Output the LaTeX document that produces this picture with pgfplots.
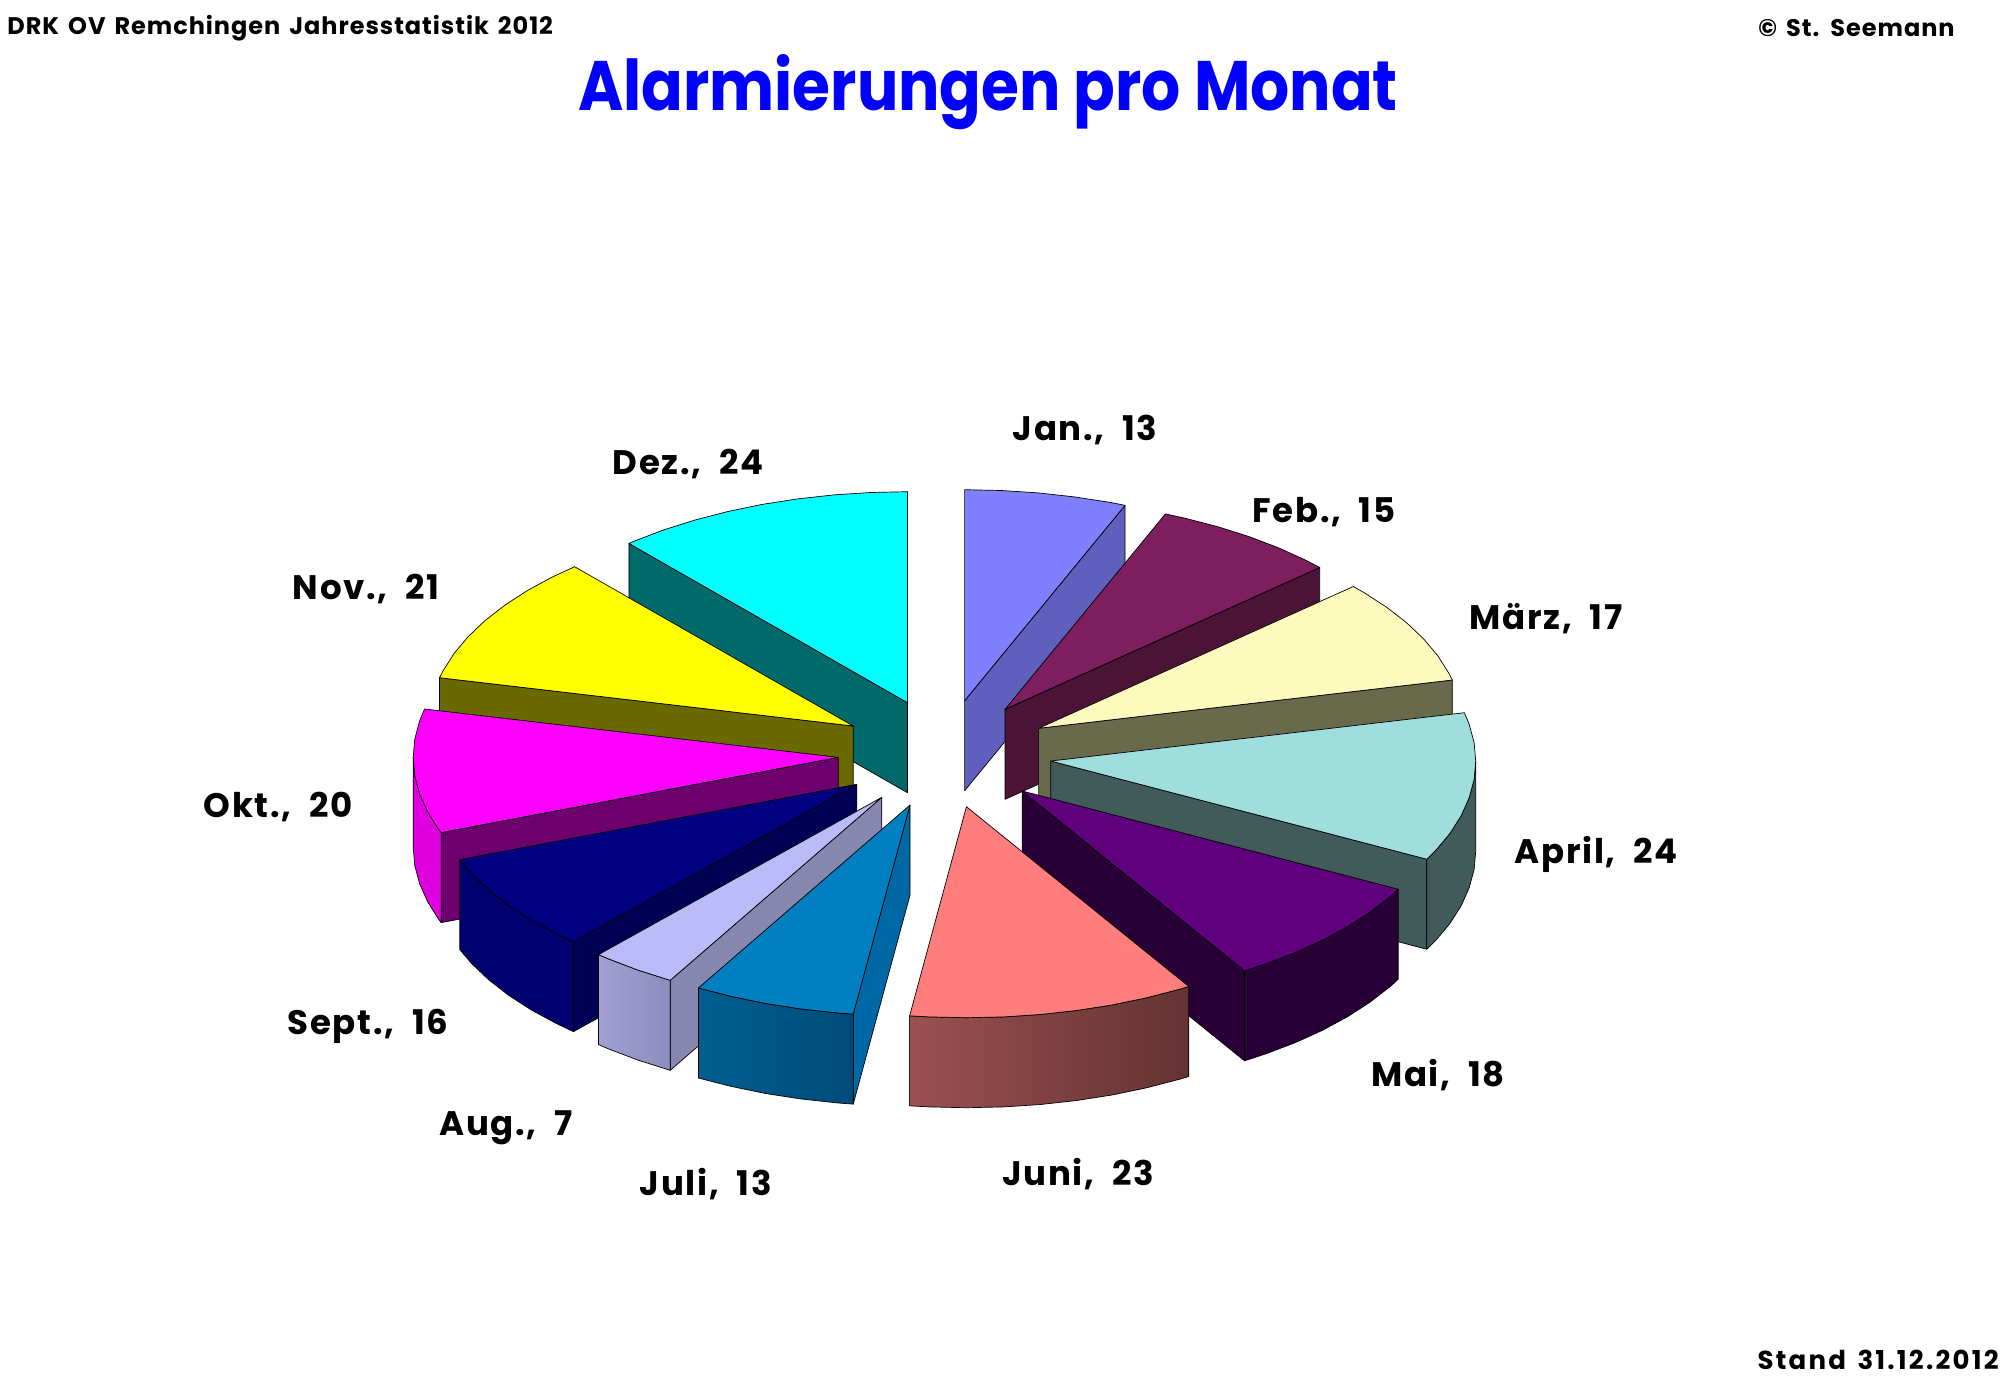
\documentclass[border=0pt]{standalone}
\usepackage{fontspec}
\setmainfont{Poppins}
\usepackage{pgfplots}
\pgfplotsset{compat=1.18}
\definecolor{cJan}{RGB}{128,128,255}\definecolor{wJan}{RGB}{95,95,190}
\definecolor{cFeb}{RGB}{125,30,95}\definecolor{wFeb}{RGB}{75,20,55}
\definecolor{cMar}{RGB}{253,250,190}\definecolor{wMar}{RGB}{105,105,75}
\definecolor{cApr}{RGB}{160,222,222}\definecolor{wApr}{RGB}{65,90,90}
\definecolor{cMai}{RGB}{95,0,125}\definecolor{wMai}{RGB}{40,0,55}
\definecolor{cJun}{RGB}{255,125,125}\definecolor{wJunA}{RGB}{155,80,80}\definecolor{wJunB}{RGB}{100,50,50}
\definecolor{cJul}{RGB}{0,128,192}\definecolor{wJul}{RGB}{0,105,165}\definecolor{wJulA}{RGB}{0,95,145}\definecolor{wJulB}{RGB}{0,75,120}
\definecolor{cAug}{RGB}{187,187,250}\definecolor{wAug}{RGB}{135,135,175}\definecolor{wAugA}{RGB}{160,160,210}\definecolor{wAugB}{RGB}{140,140,190}
\definecolor{cSep}{RGB}{0,0,128}\definecolor{wSep}{RGB}{0,0,85}\definecolor{oSep}{RGB}{0,0,110}
\definecolor{cOkt}{RGB}{255,0,255}\definecolor{wOkt}{RGB}{110,0,110}\definecolor{oOkt}{RGB}{223,0,223}
\definecolor{cNov}{RGB}{255,255,0}\definecolor{wNov}{RGB}{105,105,0}
\definecolor{cDez}{RGB}{0,255,255}\definecolor{wDez}{RGB}{0,105,105}
\newfontfamily\labf[LetterSpace=5,WordSpace=2]{Poppins}
\newfontfamily\headf[LetterSpace=4,WordSpace=1.5]{Poppins}
\newfontfamily\standf[LetterSpace=8.5,WordSpace=1.5]{Poppins}
\tikzset{org/.style 2 args={shift={(axis direction cs:#1,#2)}},
  pl/.style={draw=black,line width=0.35pt,line join=round},
  lab/.style={font=\labf\bfseries\fontsize{17}{19}\selectfont,inner sep=0pt,text=black}}
\begin{document}
\begin{tikzpicture}
\useasboundingbox (0,0) rectangle (1000pt,693.5pt);
\begin{axis}[at={(0,0)},anchor=south west,scale only axis,width=1000pt,height=693.5pt,
  xmin=0,xmax=2000,ymin=0,ymax=1387,y dir=reverse,axis lines=none,clip=false]
% Dez
\addplot[pl,fill=wDez,org={907.5}{702.7}] coordinates {(0,0)(-278.6,-159.3)(-278.6,-69.3)(0,90)} --cycle;
\addplot[pl,fill=cDez,org={907.5}{702.7}] coordinates {(0,0)(-278.6,-159.3)(-273.2,-161.6)(-243.8,-172.8)(-212.5,-182.7)(-179.6,-191.2)(-145.4,-198.3)(-110,-203.8)(-73.8,-207.8)(-37,-210.2)(0,-211)} --cycle;
% Jan
\addplot[pl,fill=wJan,org={964.6}{700.7}] coordinates {(0,0)(160.4,-195.4)(160.4,-105.4)(0,90)} --cycle;
\addplot[pl,fill=cJan,org={964.6}{700.7}] coordinates {(0,0)(0,-211)(37,-210.2)(73.8,-207.8)(110,-203.8)(145.4,-198.3)(160.4,-195.4)} --cycle;
% Feb
\addplot[pl,fill=wFeb,org={1005}{709.3}] coordinates {(0,0)(314.7,-141.8)(314.7,-51.8)(0,90)} --cycle;
\addplot[pl,fill=cFeb,org={1005}{709.3}] coordinates {(0,0)(160.4,-195.4)(179.6,-191.2)(212.5,-182.7)(243.8,-172.8)(273.2,-161.6)(300.5,-149.2)(314.7,-141.8)} --cycle;
% Maerz
\addplot[pl,fill=wMar,org={1038.6}{728.3}] coordinates {(0,0)(413.7,-48.3)(413.7,41.7)(0,90)} --cycle;
\addplot[pl,fill=cMar,org={1038.6}{728.3}] coordinates {(0,0)(314.7,-141.8)(325.6,-135.6)(348.1,-121)(368.1,-105.5)(385.2,-89.2)(399.4,-72.2)(410.5,-54.6)(413.7,-48.3)} --cycle;
% April
\addplot[pl,fill=wApr,org={1050.7}{761}] coordinates {(0,0)(376.1,98.2)(376.1,188.2)(0,90)} --cycle;
\addplot[pl,fill=wApr,org={1050.7}{761}] coordinates {(425,0)(423.4,18.4)(418.5,36.6)(410.5,54.6)(399.4,72.2)(385.2,89.2)(376.1,98.2)(376.1,188.2)(385.2,179.2)(399.4,162.2)(410.5,144.6)(418.5,126.6)(423.4,108.4)(425,90)} --cycle;
\addplot[pl,fill=cApr,org={1050.7}{761}] coordinates {(0,0)(413.7,-48.3)(418.5,-36.6)(423.4,-18.4)(425,0)(423.4,18.4)(418.5,36.6)(410.5,54.6)(399.4,72.2)(385.2,89.2)(376.1,98.2)} --cycle;
% Mai
\addplot[pl,fill=wMai,org={1022.1}{791}] coordinates {(0,0)(222.4,179.8)(222.4,269.8)(0,90)} --cycle;
\addplot[pl,fill=wMai,org={1022.1}{791}] coordinates {(376.1,98.2)(368.1,105.5)(348.1,121)(325.6,135.6)(300.5,149.2)(273.2,161.6)(243.8,172.8)(222.4,179.8)(222.4,269.8)(243.8,262.8)(273.2,251.6)(300.5,239.2)(325.6,225.6)(348.1,211)(368.1,195.5)(376.1,188.2)} --cycle;
\addplot[pl,fill=cMai,org={1022.1}{791}] coordinates {(0,0)(376.1,98.2)(368.1,105.5)(348.1,121)(325.6,135.6)(300.5,149.2)(273.2,161.6)(243.8,172.8)(222.4,179.8)} --cycle;
% Juni
\addplot[pl,right color=wJunB,left color=wJunA,org={966.4}{806.7}] coordinates {(222.4,179.8)(212.5,182.7)(179.6,191.2)(145.4,198.3)(110,203.8)(73.8,207.8)(37,210.2)(0,211)(-37,210.2)(-56.8,209.1)(-56.8,299.1)(-37,300.2)(0,301)(37,300.2)(73.8,297.8)(110,293.8)(145.4,288.3)(179.6,281.2)(212.5,272.7)(222.4,269.8)} --cycle;
\addplot[pl,fill=cJun,org={966.4}{806.7}] coordinates {(0,0)(222.4,179.8)(212.5,182.7)(179.6,191.2)(145.4,198.3)(110,203.8)(73.8,207.8)(37,210.2)(0,211)(-37,210.2)(-56.8,209.1)} --cycle;
% Nov
\addplot[pl,fill=wNov,org={853.2}{726}] coordinates {(0,0)(-413.7,-48.3)(-413.7,41.7)(0,90)} --cycle;
\addplot[pl,fill=cNov,org={853.2}{726}] coordinates {(0,0)(-413.7,-48.3)(-410.5,-54.6)(-399.4,-72.2)(-385.2,-89.2)(-368.1,-105.5)(-348.1,-121)(-325.6,-135.6)(-300.5,-149.2)(-278.6,-159.3)} --cycle;
% Okt
\addplot[pl,fill=wOkt,org={838.2}{757.3}] coordinates {(0,0)(-397,75.3)(-397,165.3)(0,90)} --cycle;
\addplot[pl,fill=oOkt,org={838.2}{757.3}] coordinates {(-425,0)(-423.4,18.4)(-418.5,36.6)(-410.5,54.6)(-399.4,72.2)(-397,75.3)(-397,165.3)(-399.4,162.2)(-410.5,144.6)(-418.5,126.6)(-423.4,108.4)(-425,90)} --cycle;
\addplot[pl,fill=cOkt,org={838.2}{757.3}] coordinates {(0,0)(-397,75.3)(-399.4,72.2)(-410.5,54.6)(-418.5,36.6)(-423.4,18.4)(-425,0)(-423.4,-18.4)(-418.5,-36.6)(-413.7,-48.3)} --cycle;
% Sept
\addplot[pl,fill=wSep,org={856.8}{784.3}] coordinates {(0,0)(-283.3,157.3)(-283.3,247.3)(0,90)} --cycle;
\addplot[pl,fill=oSep,org={856.8}{784.3}] coordinates {(-283.3,157.3)(-300.5,149.2)(-325.6,135.6)(-348.1,121)(-368.1,105.5)(-385.2,89.2)(-397,75.3)(-397,165.3)(-385.2,179.2)(-368.1,195.5)(-348.1,211)(-325.6,225.6)(-300.5,239.2)(-283.3,247.3)} --cycle;
\addplot[pl,fill=cSep,org={856.8}{784.3}] coordinates {(0,0)(-283.3,157.3)(-300.5,149.2)(-325.6,135.6)(-348.1,121)(-368.1,105.5)(-385.2,89.2)(-397,75.3)} --cycle;
% Aug
\addplot[pl,fill=wAug,org={881.8}{797.3}] coordinates {(0,0)(-211.6,183)(-211.6,273)(0,90)} --cycle;
\addplot[pl,left color=wAugA,right color=wAugB,org={881.8}{797.3}] coordinates {(-211.6,183)(-243.8,172.8)(-273.2,161.6)(-283.3,157.3)(-283.3,247.3)(-273.2,251.6)(-243.8,262.8)(-211.6,273)} --cycle;
\addplot[pl,fill=cAug,org={881.8}{797.3}] coordinates {(0,0)(-211.6,183)(-243.8,172.8)(-273.2,161.6)(-283.3,157.3)} --cycle;
% Juli
\addplot[pl,fill=wJul,org={910}{805}] coordinates {(0,0)(-56.8,209.1)(-56.8,299.1)(0,90)} --cycle;
\addplot[pl,left color=wJulA,right color=wJulB,org={910}{805}] coordinates {(-56.8,209.1)(-73.8,207.8)(-110,203.8)(-145.4,198.3)(-179.6,191.2)(-211.6,183)(-211.6,273)(-179.6,281.2)(-145.4,288.3)(-110,293.8)(-73.8,297.8)(-56.8,299.1)} --cycle;
\addplot[pl,fill=cJul,org={910}{805}] coordinates {(0,0)(-56.8,209.1)(-73.8,207.8)(-110,203.8)(-145.4,198.3)(-179.6,191.2)(-211.6,183)} --cycle;
% Texts
\node[font=\headf\bfseries\fontsize{12}{14}\selectfont,anchor=west,inner sep=0pt] at (axis cs:7,28) {DRK OV Remchingen Jahresstatistik 2012};
\node[font=\headf\bfseries\fontsize{12}{14}\selectfont,anchor=east,inner sep=0pt] at (axis cs:1955,28) {© St. Seemann};
\node[font=\standf\bfseries\fontsize{13}{15}\selectfont,anchor=east,inner sep=0pt] at (axis cs:1999,1360) {Stand 31.12.2012};
\node[font=\bfseries\fontsize{35}{40}\selectfont,text={rgb,255:red,0;green,0;blue,255},inner sep=0pt] at (axis cs:988,92) {\scalebox{0.878}[1]{Alarmierungen pro Monat}};
\node[lab] at (axis cs:1085,430) {Jan., 13};
\node[lab] at (axis cs:1324,512) {Feb., 15};
\node[lab] at (axis cs:1546,619) {März, 17};
\node[lab] at (axis cs:1596,854) {April, 24};
\node[lab] at (axis cs:1438,1075) {Mai, 18};
\node[lab] at (axis cs:1078,1174) {Juni, 23};
\node[lab] at (axis cs:706,1184) {Juli, 13};
\node[lab] at (axis cs:506,1128) {Aug., 7};
\node[lab] at (axis cs:368,1026) {Sept., 16};
\node[lab] at (axis cs:278,807) {Okt., 20};
\node[lab] at (axis cs:366,589) {Nov., 21};
\node[lab] at (axis cs:688,464) {Dez., 24};
\end{axis}
\end{tikzpicture}
\end{document}
